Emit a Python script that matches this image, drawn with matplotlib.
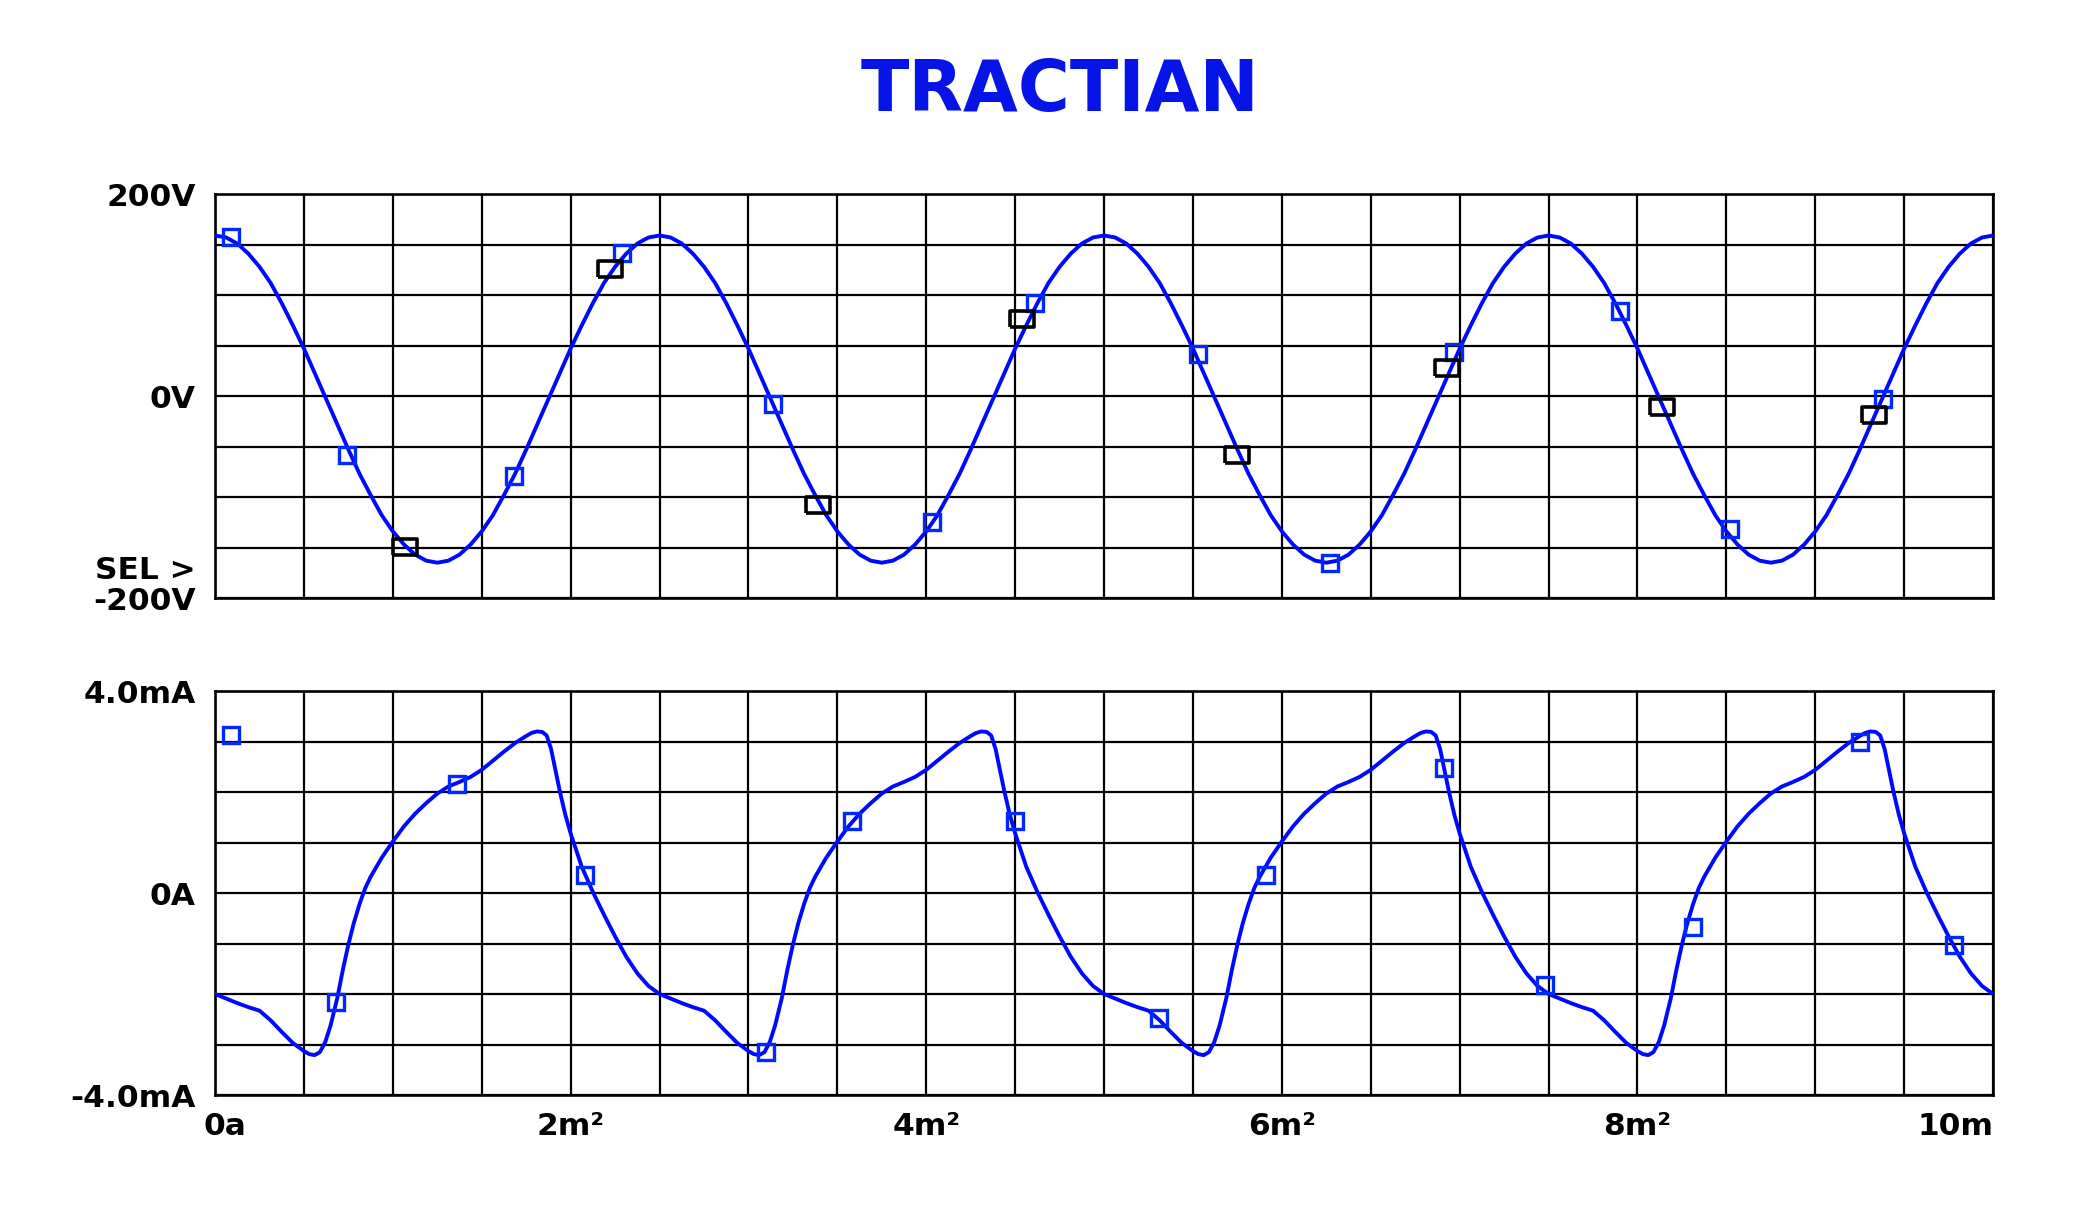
import numpy as np
import matplotlib.pyplot as plt
import matplotlib.transforms as mtransforms
from matplotlib.ticker import MultipleLocator

plt.rcParams['font.family'] = ['DejaVu Sans']
plt.rcParams['font.weight'] = 'bold'

# voltage trace sampled every 0.0625 ms, V
t_volt = np.arange(161) * 0.0625
volt = [159, 157, 151, 141, 128, 112, 92, 70, 47, 22, -3, -28, -53, -77, -98, -118, -134, -147, -157, -163,
        -165, -163, -157, -147, -134, -118, -98, -77, -53, -28, -3, 22, 47, 70, 92, 112, 128, 141, 151, 157,
        159, 157, 151, 141, 128, 112, 92, 70, 47, 22, -3, -28, -53, -77, -98, -118, -134, -147, -157, -163,
        -165, -163, -157, -147, -134, -118, -98, -77, -53, -28, -3, 22, 47, 70, 92, 112, 128, 141, 151, 157,
        159, 157, 151, 141, 128, 112, 92, 70, 47, 22, -3, -28, -53, -77, -98, -118, -134, -147, -157, -163,
        -165, -163, -157, -147, -134, -118, -98, -77, -53, -28, -3, 22, 47, 70, 92, 112, 128, 141, 151, 157,
        159, 157, 151, 141, 128, 112, 92, 70, 47, 22, -3, -28, -53, -77, -98, -118, -134, -147, -157, -163,
        -165, -163, -157, -147, -134, -118, -98, -77, -53, -28, -3, 22, 47, 70, 92, 112, 128, 141, 151, 157,
        159]

# current trace, ms / mA (denser where the waveform turns sharply)
t_curr = [0.0, 0.0625, 0.125, 0.1875, 0.25, 0.3125, 0.375, 0.4375, 0.5, 0.53, 0.56, 0.59, 0.62, 0.65, 0.6875,
          0.72, 0.75, 0.78, 0.8125, 0.845, 0.875, 0.9375, 1.0, 1.0625, 1.125, 1.1875, 1.25, 1.3125, 1.375,
          1.4375, 1.5, 1.5625, 1.625, 1.6875, 1.75, 1.78, 1.81, 1.84, 1.865, 1.89, 1.915, 1.94, 1.97, 2.0,
          2.0625, 2.125, 2.1875, 2.25, 2.3125, 2.375, 2.4375,
          2.5, 2.5625, 2.625, 2.6875, 2.75, 2.8125, 2.875, 2.9375, 3.0, 3.03, 3.06, 3.09, 3.12, 3.15, 3.1875,
          3.22, 3.25, 3.28, 3.3125, 3.345, 3.375, 3.4375, 3.5, 3.5625, 3.625, 3.6875, 3.75, 3.8125, 3.875,
          3.9375, 4.0, 4.0625, 4.125, 4.1875, 4.25, 4.28, 4.31, 4.34, 4.365, 4.39, 4.415, 4.44, 4.47, 4.5,
          4.5625, 4.625, 4.6875, 4.75, 4.8125, 4.875, 4.9375,
          5.0, 5.0625, 5.125, 5.1875, 5.25, 5.3125, 5.375, 5.4375, 5.5, 5.53, 5.56, 5.59, 5.62, 5.65, 5.6875,
          5.72, 5.75, 5.78, 5.8125, 5.845, 5.875, 5.9375, 6.0, 6.0625, 6.125, 6.1875, 6.25, 6.3125, 6.375,
          6.4375, 6.5, 6.5625, 6.625, 6.6875, 6.75, 6.78, 6.81, 6.84, 6.865, 6.89, 6.915, 6.94, 6.97, 7.0,
          7.0625, 7.125, 7.1875, 7.25, 7.3125, 7.375, 7.4375,
          7.5, 7.5625, 7.625, 7.6875, 7.75, 7.8125, 7.875, 7.9375, 8.0, 8.03, 8.06, 8.09, 8.12, 8.15, 8.1875,
          8.22, 8.25, 8.28, 8.3125, 8.345, 8.375, 8.4375, 8.5, 8.5625, 8.625, 8.6875, 8.75, 8.8125, 8.875,
          8.9375, 9.0, 9.0625, 9.125, 9.1875, 9.25, 9.28, 9.31, 9.34, 9.365, 9.39, 9.415, 9.44, 9.47, 9.5,
          9.5625, 9.625, 9.6875, 9.75, 9.8125, 9.875, 9.9375,
          10.0]
curr = [-2.00, -2.09, -2.18, -2.26, -2.33, -2.52, -2.75, -2.97, -3.13, -3.19, -3.21, -3.15, -2.95, -2.62, -2.08,
        -1.50, -1.02, -0.60, -0.22, 0.10, 0.32, 0.70, 1.02, 1.32, 1.57, 1.78, 1.97, 2.11, 2.20,
        2.30, 2.44, 2.62, 2.80, 2.97, 3.11, 3.17, 3.20, 3.19, 3.12, 2.85, 2.42, 2.00, 1.55, 1.18,
        0.52, 0.02, -0.43, -0.86, -1.26, -1.59, -1.84,
        -2.00, -2.09, -2.18, -2.26, -2.33, -2.52, -2.75, -2.97, -3.13, -3.19, -3.21, -3.15, -2.95, -2.62, -2.08,
        -1.50, -1.02, -0.60, -0.22, 0.10, 0.32, 0.70, 1.02, 1.32, 1.57, 1.78, 1.97, 2.11, 2.20,
        2.30, 2.44, 2.62, 2.80, 2.97, 3.11, 3.17, 3.20, 3.19, 3.12, 2.85, 2.42, 2.00, 1.55, 1.18,
        0.52, 0.02, -0.43, -0.86, -1.26, -1.59, -1.84,
        -2.00, -2.09, -2.18, -2.26, -2.33, -2.52, -2.75, -2.97, -3.13, -3.19, -3.21, -3.15, -2.95, -2.62, -2.08,
        -1.50, -1.02, -0.60, -0.22, 0.10, 0.32, 0.70, 1.02, 1.32, 1.57, 1.78, 1.97, 2.11, 2.20,
        2.30, 2.44, 2.62, 2.80, 2.97, 3.11, 3.17, 3.20, 3.19, 3.12, 2.85, 2.42, 2.00, 1.55, 1.18,
        0.52, 0.02, -0.43, -0.86, -1.26, -1.59, -1.84,
        -2.00, -2.09, -2.18, -2.26, -2.33, -2.52, -2.75, -2.97, -3.13, -3.19, -3.21, -3.15, -2.95, -2.62, -2.08,
        -1.50, -1.02, -0.60, -0.22, 0.10, 0.32, 0.70, 1.02, 1.32, 1.57, 1.78, 1.97, 2.11, 2.20,
        2.30, 2.44, 2.62, 2.80, 2.97, 3.11, 3.17, 3.20, 3.19, 3.12, 2.85, 2.42, 2.00, 1.55, 1.18,
        0.52, 0.02, -0.43, -0.86, -1.26, -1.59, -1.84,
        -2.00]

# cursor markers
volt_blue_t = [0.09, 0.74, 1.68, 2.29, 3.14, 4.03, 4.61, 5.53, 6.27, 6.97, 7.90, 8.52, 9.38]
volt_blue = [157, -58, -79, 142, -8, -125, 92, 42, -165, 44, 84, -132, -3]
volt_black_t = [1.07, 2.22, 3.39, 4.54, 5.75, 6.93, 8.14, 9.33]
volt_black = [-149, 126, -108, 76, -58, 28, -11, -19]
curr_blue_t = [0.09, 0.68, 1.36, 2.08, 3.10, 3.58, 4.50, 5.31, 5.91, 6.91, 7.48, 8.31, 9.25, 9.78]
curr_blue = [3.12, -2.15, 2.15, 0.36, -3.14, 1.42, 1.42, -2.48, 0.36, 2.48, -1.83, -0.67, 3.0, -1.02]

x_ticks = [0, 2, 4, 6, 8, 10]
x_labels = ['0a', '2m²', '4m²', '6m²', '8m²', '10m']

TRACE = '#0008ff'
MARK = '#0028ff'
LOGO = '#0614e8'
FS = 22.5

RECT = [(-1.5, -1), (1.5, -1), (1.5, 1), (-1.5, 1), (-1.5, -1)]


def styleAxis(ax, ymin, ymax, ystep, ylabels):
    ax.set_xlim(0, 10)
    ax.set_ylim(ymin, ymax)
    ax.xaxis.set_minor_locator(MultipleLocator(0.5))
    ax.yaxis.set_minor_locator(MultipleLocator(ystep))
    ax.set_yticks([ymin, 0, ymax], ylabels)
    ax.grid(which='both', color='black', lw=1.6)
    ax.tick_params(which='both', length=0)
    ax.tick_params(axis='y', pad=14, labelsize=FS)
    ax.tick_params(axis='x', pad=12, labelsize=FS)
    for s in ax.spines.values():
        s.set_linewidth(1.9)
        s.set_color('black')
    ax.set_axisbelow(True)


fig = plt.figure(figsize=(21, 12.16), dpi=100)
ax_v = fig.add_axes([0.1024, 0.5082, 0.8467, 0.3322])
ax_i = fig.add_axes([0.1024, 0.0995, 0.8467, 0.3322])

styleAxis(ax_v, -200, 200, 50, ['-200V', '0V', '200V'])
styleAxis(ax_i, -4, 4, 1, ['-4.0mA', '0A', '4.0mA'])

ax_v.set_xticks(x_ticks, [''] * len(x_ticks))
ax_i.set_xticks(x_ticks, x_labels)
lbls = ax_i.get_xticklabels()
lbls[-1].set_horizontalalignment('right')
lbls[0].set_transform(lbls[0].get_transform() + mtransforms.ScaledTranslation(0.1, 0, fig.dpi_scale_trans))

ax_v.plot(t_volt, volt, color=TRACE, lw=2.8, zorder=3, solid_joinstyle='round')
ax_v.plot(volt_blue_t, volt_blue, ls='none', marker='s', ms=11.5, mfc='none', mec=MARK, mew=2.4, zorder=4)
ax_v.plot(volt_black_t, volt_black, ls='none', marker=RECT, ms=17.5, mfc='none', mec='black', mew=2.6, zorder=5)

ax_i.plot(t_curr, curr, color=TRACE, lw=2.8, zorder=3, solid_joinstyle='round')
ax_i.plot(curr_blue_t, curr_blue, ls='none', marker='s', ms=11.5, mfc='none', mec=MARK, mew=2.4, zorder=4)

ax_v.annotate('SEL >', xy=(0, -200), xycoords=('axes fraction', 'data'), xytext=(-14, 22),
              textcoords='offset points', ha='right', va='center_baseline', fontsize=FS, fontweight='bold')

fig.text(1060 / 2100, 1 - 111 / 1216, 'TRACTIAN', ha='center', va='baseline', fontsize=51,
         fontweight='bold', color=LOGO)

fig.savefig('out.png', dpi=100)
